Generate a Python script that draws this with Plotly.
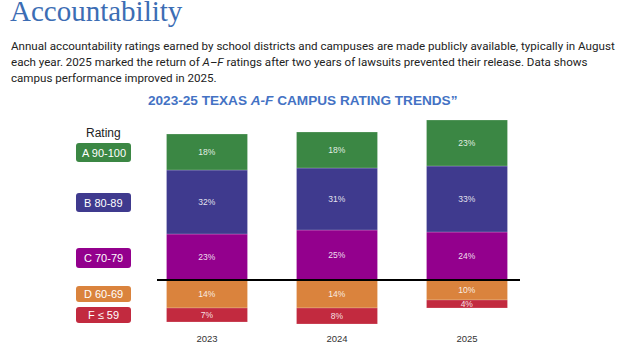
import plotly.graph_objects as go

# ---- data ----
years = ["2023", "2024", "2025"]
rating_a = [18, 18, 23]
rating_b = [32, 31, 33]
rating_c = [23, 25, 24]
rating_d = [14, 14, 10]
rating_f = [7, 8, 4]
legend_labels = ["A 90-100", "B 80-89", "C 70-79", "D 60-69", "F \u2264 59"]

COL_A = "#3b8744"
COL_B = "#3f3a8e"
COL_C = "#93008d"
COL_D = "#da833d"
COL_F = "#c22a3f"

W, H = 630, 360
MB = 35
PH = H - MB  # plot-area height in px


def X(px):
    return px / W


def Y(py):
    return (PH - py) / PH


fig = go.Figure()
label_font = dict(family="Liberation Sans, Arial, sans-serif", size=8.5,
                  color="rgba(255,255,255,0.88)")


def add(vals, color, sign=1):
    fig.add_trace(go.Bar(
        x=years, y=[sign * v for v in vals],
        text=[f"{v}%" for v in vals],
        textposition="inside", insidetextanchor="middle", textangle=0,
        textfont=label_font,
        marker=dict(color=color, line=dict(width=0.6, color="rgba(255,255,255,0.35)")),
        width=0.623, showlegend=False, hoverinfo="skip", cliponaxis=False,
    ))


add(rating_c, COL_C)
add(rating_b, COL_B)
add(rating_a, COL_A)
add(rating_d, COL_D, -1)
add(rating_f, COL_F, -1)

shapes = []
# baseline
shapes.append(dict(type="line", xref="paper", yref="y", x0=X(157), x1=X(520),
                   y0=0, y1=0, line=dict(color="black", width=2), layer="above"))

annotations = []
# Legend boxes
boxes = [(143, 162, COL_A), (193, 212, COL_B), (248, 268, COL_C),
         (286, 302, COL_D), (307, 323, COL_F)]
bx0, bx1 = 76, 131
r = 3
for (t, b, col), lab in zip(boxes, legend_labels):
    x0, x1 = X(bx0), X(bx1)
    rx, ry = r / W, r / PH
    y0, y1 = Y(b), Y(t)
    path = (f"M {x0+rx},{y0} L {x1-rx},{y0} Q {x1},{y0} {x1},{y0+ry} "
            f"L {x1},{y1-ry} Q {x1},{y1} {x1-rx},{y1} L {x0+rx},{y1} "
            f"Q {x0},{y1} {x0},{y1-ry} L {x0},{y0+ry} Q {x0},{y0} {x0+rx},{y0} Z")
    shapes.append(dict(type="path", xref="paper", yref="paper", path=path,
                       fillcolor=col, line=dict(width=0)))
    annotations.append(dict(xref="paper", yref="paper", x=X((bx0 + bx1) / 2),
                            y=Y((t + b) / 2), text=lab, showarrow=False,
                            xanchor="center", yanchor="middle",
                            font=dict(family="Liberation Sans, Arial, sans-serif",
                                      size=11, color="white")))

annotations.append(dict(xref="paper", yref="paper", x=X(103), y=Y(133), text="Rating",
                        showarrow=False, xanchor="center", yanchor="middle",
                        font=dict(family="Liberation Sans, Arial, sans-serif",
                                  size=12, color="#222")))

# Heading
annotations.append(dict(xref="paper", yref="paper", x=X(8), y=Y(11), text="Accountability",
                        showarrow=False, xanchor="left", yanchor="middle",
                        font=dict(family="Liberation Serif, serif", size=29,
                                  color="#3c6db4")))

para = ["Annual accountability ratings earned by school districts and campuses are made publicly available, typically in August",
        "each year. 2025 marked the return of <i>A\u2013F</i> ratings after two years of lawsuits prevented their release. Data shows",
        "campus performance improved in 2025."]
for i, line in enumerate(para):
    annotations.append(dict(xref="paper", yref="paper", x=X(9), y=Y(46 + 16 * i), text=line,
                            showarrow=False, xanchor="left", yanchor="middle",
                            font=dict(family="Roboto, sans-serif", size=11.6,
                                      color="#222")))

annotations.append(dict(xref="paper", yref="paper", x=X(302), y=Y(100),
                        text="<b>2023-25 TEXAS <i>A-F</i> CAMPUS RATING TRENDS\u201d</b>",
                        showarrow=False, xanchor="center", yanchor="middle",
                        font=dict(family="Liberation Sans, Arial, sans-serif", size=13.6,
                                  color="#4472c4")))

fig.update_layout(
    width=W, height=H, barmode="relative",
    margin=dict(l=0, r=0, t=0, b=MB),
    paper_bgcolor="white", plot_bgcolor="white",
    shapes=shapes, annotations=annotations,
    uniformtext=dict(minsize=8.5, mode="show"),
    xaxis=dict(type="category", range=[-207 / 130, (630 - 207) / 130],
               showgrid=False, zeroline=False, showline=False, ticks="",
               ticklabelstandoff=6,
               tickfont=dict(family="Liberation Sans, Arial, sans-serif", size=9.5, color="#333")),
    yaxis=dict(range=[-22.5, 140], showgrid=False, zeroline=False, showline=False,
               showticklabels=False, ticks=""),
)

fig.write_html("out.html", config={"displayModeBar": False},
               post_script="document.body.style.margin='0';")
